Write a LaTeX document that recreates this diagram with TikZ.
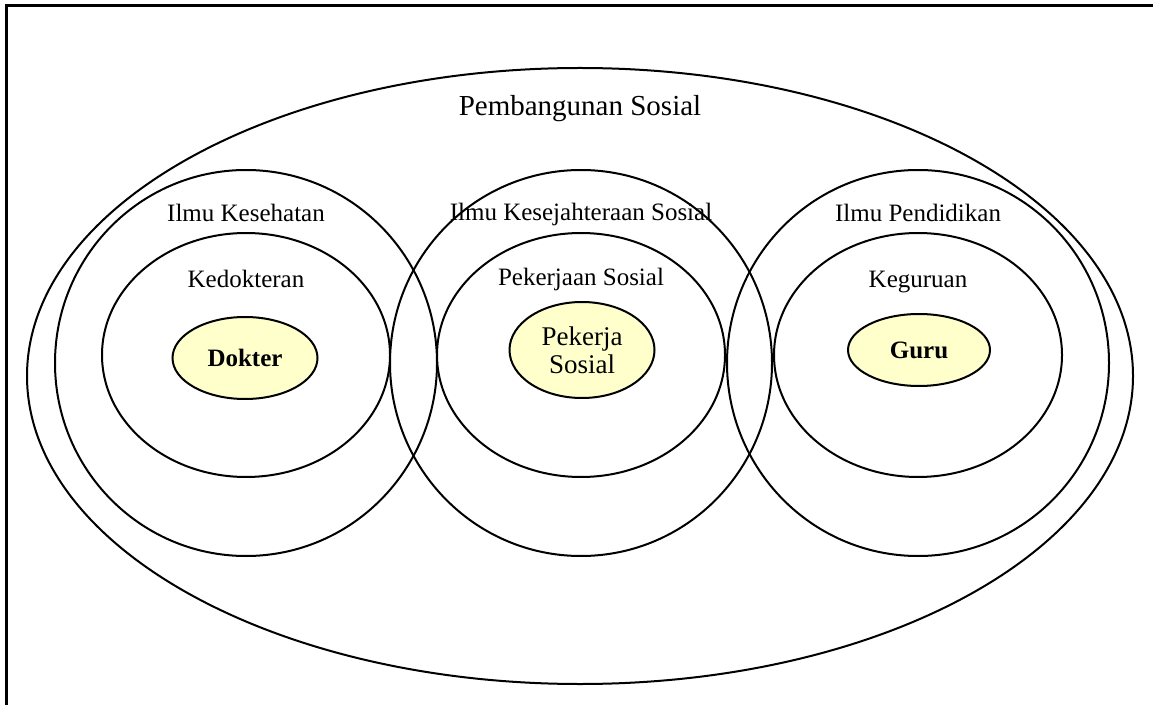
\documentclass[tikz,border=0pt]{standalone}
\usepackage{fontspec}
\setmainfont{Liberation Serif}
\usepackage{tikz}
\usetikzlibrary{shapes.geometric,positioning}
\definecolor{profYL}{RGB}{255,255,204}
\tikzstyle{outerEL} = [ellipse, draw, line width=2pt, minimum width=1106pt, minimum height=616pt, inner sep=0pt]
\tikzstyle{bigCI} = [ellipse, draw, line width=2pt, minimum width=382pt, minimum height=386pt, inner sep=0pt]
\tikzstyle{innerCI} = [ellipse, draw, line width=2pt, minimum width=288pt, minimum height=244pt, inner sep=0pt]
\tikzstyle{profEL} = [ellipse, draw, line width=2pt, fill=profYL, inner sep=0pt, text centered, align=center]
\tikzstyle{textLB} = [inner sep=0pt, font=\fontsize{25}{28}\selectfont]

\begin{document}
\begin{tikzpicture}[x=1pt, y=1pt]
  \useasboundingbox (0,0) rectangle (1153,705);
  % frame
  \draw [line width=3pt] (6,0) -- (6,699) -- (1153,699);

  % circles
  \node [outerEL] (pemb) at (580,329) {};
  \node [bigCI] (kes) at (246,342) {};
  \node [bigCI] (kesos) at (581,342) {};
  \node [bigCI] (pend) at (918,342) {};
  \node [innerCI] (dok) at (246,350) {};
  \node [innerCI] (peksos) at (581,350) {};
  \node [innerCI] (keg) at (918,350) {};

  % professions
  \node [profEL, minimum width=145pt, minimum height=82pt, font=\fontsize{25}{28}\selectfont\bfseries] (dokter) at (245,347) {Dokter};
  \node [profEL, minimum width=145pt, minimum height=96pt, font=\fontsize{27}{28}\selectfont] (pekerja) at (582,355) {Pekerja\\Sosial};
  \node [profEL, minimum width=142pt, minimum height=72pt, font=\fontsize{25}{28}\selectfont\bfseries] (guru) at (919,355) {Guru};

  % labels
  \node [textLB, below=28pt of pemb.north, font=\fontsize{29}{32}\selectfont] (pemb_lb) {Pembangunan Sosial};
  \node [textLB, below=35pt of kes.north] (kes_lb) {Ilmu Kesehatan};
  \node [textLB, below=34pt of kesos.north] (kesos_lb) {Ilmu Kesejahteraan Sosial};
  \node [textLB, below=35pt of pend.north] (pend_lb) {Ilmu Pendidikan};
  \node [textLB, below=38pt of dok.north] (dok_lb) {Kedokteran};
  \node [textLB, below=36pt of peksos.north] (peksos_lb) {Pekerjaan Sosial};
  \node [textLB, below=39pt of keg.north] (keg_lb) {Keguruan};
\end{tikzpicture}
\end{document}
